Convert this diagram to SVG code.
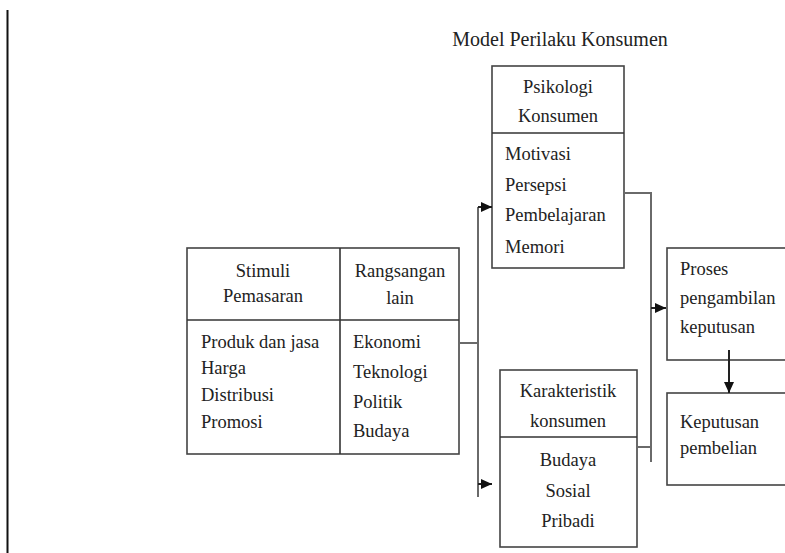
<svg xmlns="http://www.w3.org/2000/svg" width="785" height="553" viewBox="0 0 785 553">
<defs>
<style>
text{font-family:"Liberation Serif","Times New Roman",serif;font-size:18.5px;fill:#222}
.c{text-anchor:middle}
.t{font-size:20px}
.box{fill:#fff;stroke:#444;stroke-width:1.6}
.div{stroke:#333;stroke-width:1.6}
.con{fill:none;stroke:#6a6a6a;stroke-width:2}
.arr{fill:none;stroke:#222;stroke-width:2}
</style>
<marker id="ah" markerUnits="userSpaceOnUse" markerWidth="12" markerHeight="10" refX="11" refY="5" orient="auto">
<path d="M0,0 L11,5 L0,10 z" fill="#111"/>
</marker>
</defs>
<rect width="785" height="553" fill="#fff"/>
<line x1="7.5" y1="10" x2="7.5" y2="553" stroke="#111" stroke-width="2"/>
<text class="c t" x="560" y="46">Model Perilaku Konsumen</text>

<g id="stimuli">
<rect class="box" x="187" y="248" width="272" height="206"/>
<line class="div" x1="340" y1="248" x2="340" y2="454"/>
<line class="div" x1="187" y1="320" x2="459" y2="320"/>
<text class="c" x="263" y="277">Stimuli</text>
<text class="c" x="263" y="302">Pemasaran</text>
<text x="201" y="348">Produk dan jasa</text>
<text x="201" y="374">Harga</text>
<text x="201" y="401">Distribusi</text>
<text x="201" y="428">Promosi</text>
<text class="c" x="400" y="277">Rangsangan</text>
<text class="c" x="400" y="304">lain</text>
<text x="353" y="348">Ekonomi</text>
<text x="353" y="378">Teknologi</text>
<text x="353" y="408">Politik</text>
<text x="353" y="437">Budaya</text>
</g>

<g id="psikologi">
<rect class="box" x="492" y="66" width="132" height="202"/>
<line class="div" x1="492" y1="133" x2="624" y2="133"/>
<text class="c" x="558" y="93">Psikologi</text>
<text class="c" x="558" y="122">Konsumen</text>
<text x="505" y="160">Motivasi</text>
<text x="505" y="191">Persepsi</text>
<text x="505" y="221">Pembelajaran</text>
<text x="505" y="253">Memori</text>
</g>

<g id="karakteristik">
<rect class="box" x="500" y="370" width="137" height="177"/>
<line class="div" x1="500" y1="437" x2="637" y2="437"/>
<text class="c" x="568" y="397">Karakteristik</text>
<text class="c" x="568" y="427">konsumen</text>
<text class="c" x="568" y="466">Budaya</text>
<text class="c" x="568" y="497">Sosial</text>
<text class="c" x="568" y="527">Pribadi</text>
</g>

<g id="proses">
<rect class="box" x="667" y="248" width="130" height="112"/>
<text x="680" y="275">Proses</text>
<text x="680" y="304">pengambilan</text>
<text x="680" y="333">keputusan</text>
</g>

<g id="keputusan">
<rect class="box" x="667" y="393" width="130" height="92"/>
<text x="680" y="428">Keputusan</text>
<text x="680" y="454">pembelian</text>
</g>

<g id="connectors">
<polyline class="con" points="459,343 478,343"/>
<line class="con" x1="478" y1="207" x2="478" y2="497"/>
<line class="arr" x1="478" y1="207" x2="492" y2="207" marker-end="url(#ah)"/>
<line class="arr" x1="478" y1="484" x2="492" y2="484" marker-end="url(#ah)"/>
<polyline class="con" points="624,193 651,193 651,462"/>
<polyline class="con" points="637,447 651,447"/>
<line class="arr" x1="651" y1="308" x2="666" y2="308" marker-end="url(#ah)"/>
<line class="arr" x1="729" y1="350" x2="729" y2="393" marker-end="url(#ah)"/>
</g>
</svg>
